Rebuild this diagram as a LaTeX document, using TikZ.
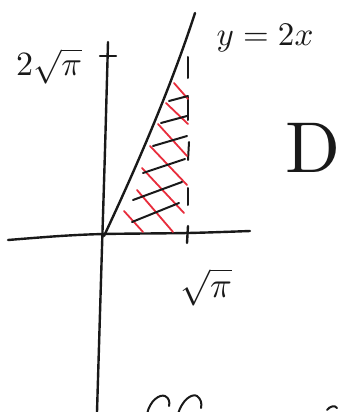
\documentclass[tikz,border=0pt]{standalone}
\begin{document}
\definecolor{pen}{RGB}{25,25,25}
\definecolor{redpen}{RGB}{232,45,60}
\begin{tikzpicture}[x=1pt,y=-1pt,
  axis/.style={line width=2.4pt, line cap=round, line join=round, pen},
  blackhatch/.style={line width=2pt, line cap=round, pen},
  redhatch/.style={line width=1.8pt, line cap=round, redpen},
  lab/.style={text=pen, inner sep=0pt}]
\useasboundingbox (0,0) rectangle (339,412);
\fill[white] (0,0) rectangle (339,412);

% axes
\draw[axis] plot[smooth] coordinates {(108,42) (105,150) (101,280) (97,412)};
\draw[axis] plot[smooth] coordinates {(8,240) (60,236) (104,234) (188,233) (250,231)};
% ticks
\draw[axis] (100,56) -- (116,56);
\draw[axis] (188,226) -- (187,243);

% line y = 2x
\draw[axis] (104,236) .. controls (135,170) and (170,90) .. (195,13);

% dashed vertical x = sqrt(pi)
\draw[blackhatch] (188,57) -- (188,78);
\draw[blackhatch] (188,97) -- (188,120);
\draw[blackhatch] (189,142) -- (188,160);
\draw[blackhatch] (188,188) -- (188,205);

% red hatching
\draw[redhatch] (174,83) -- (188,99);
\draw[redhatch] (166,103) -- (188,124);
\draw[redhatch] (158,124) -- (187,156);
\draw[redhatch] (150,146) -- (187,185);
\draw[redhatch] (142,168) -- (184,213);
\draw[redhatch] (137,190) -- (173,232);
\draw[redhatch] (124,211) -- (143,232);

% black hatching
\draw[blackhatch] (169,101) -- (188,96);
\draw[blackhatch] (161,123) -- (187,116);
\draw[blackhatch] (153,146) -- (187,136);
\draw[blackhatch] (143,173) -- (185,159);
\draw[blackhatch] (133,200) -- (182,182);
\draw[blackhatch] (132,222) -- (179,203);

% labels
\node[lab, scale=3.4] (ylab) at (49,66) {$2\sqrt{\pi}$};
\node[lab, scale=3.3] (eq) at (265,38) {$y=2x$};
\node[lab, scale=3.6] (xlab) at (206,287) {$\sqrt{\pi}$};
\node[lab, scale=7.2] (dlab) at (313,148) {D};

% partial strokes at the bottom edge
\draw[blackhatch] (147,414) .. controls (150,400) and (160,394) .. (165,396) .. controls (169,398) and (170,402) .. (169,406);
\draw[blackhatch] (178,414) .. controls (182,400) and (192,393) .. (197,396) .. controls (201,399) and (202,403) .. (201,408);
\draw[blackhatch] (327,410) .. controls (330,406) and (335,405) .. (337,408);
\end{tikzpicture}
\end{document}
